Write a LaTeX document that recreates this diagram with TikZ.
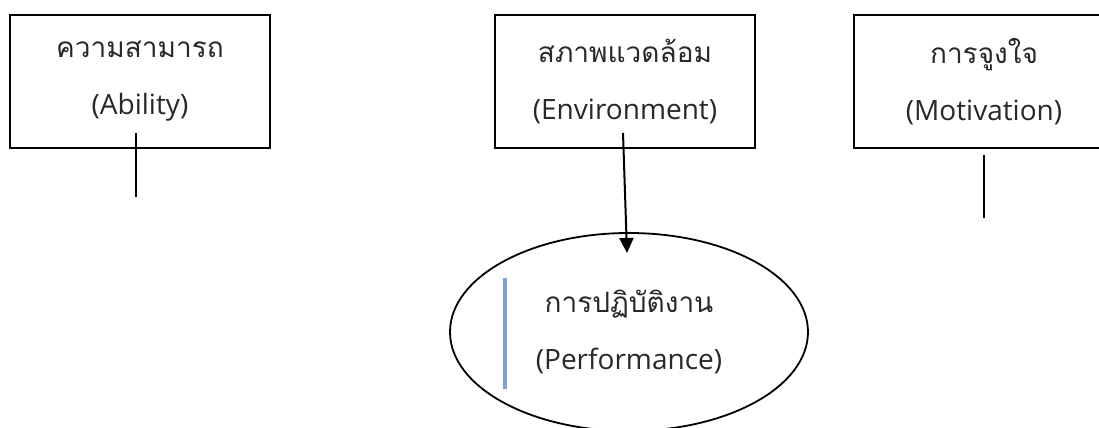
\documentclass[tikz,border=0pt]{standalone}
\usepackage{fontspec}
\setmainfont{Open Sans}
\newfontfamily\thaifont[Script=Thai]{Loma}
\usetikzlibrary{shapes.geometric, arrows.meta}
\definecolor{barblue}{RGB}{124,160,212}
\definecolor{inkgray}{RGB}{40,40,40}

\tikzset{
    factor/.style={draw, line width=1pt, minimum width=130pt, minimum height=66.5pt,
        inner sep=0pt, align=center, text=inkgray, font=\fontsize{14}{28.5}\selectfont},
    result/.style={draw, ellipse, line width=0.9pt, minimum width=179pt, minimum height=99pt,
        inner sep=0pt, align=center, text=inkgray, font=\fontsize{14}{28.5}\selectfont},
    link/.style={line width=1pt},
}

\begin{document}
\begin{tikzpicture}[x=0.5pt, y=-0.5pt]
    \clip (0,0) rectangle (1099,428);

    % --- Les trois facteurs (Haut) ---
    \node[factor] (ability) at (140,81.5) {{\thaifont ความสามารถ}\\(Ability)};
    \node[factor] (environment) at (625,81.5) {{\thaifont สภาพแวดล้อม}\\(Environment)};
    \node[factor] (motivation) at (984,81.5) {{\thaifont การจูงใจ}\\(Motivation)};

    % --- Performance (Bas) ---
    \node[result] (performance) at (629,332) {{\thaifont การปฏิบัติงาน}\\(Performance)};

    % --- Liaisons ---
    \coordinate (abilityTop) at (136,133);
    \coordinate (abilityEnd) at (136,197);
    \draw[link] (abilityTop) -- (abilityEnd);

    \coordinate (envStart) at (623,133);
    \coordinate (perfTip) at (627,253);
    \draw[link, -{Triangle[width=7pt, length=7.5pt]}] (envStart) -- (perfTip);

    \coordinate (motivTop) at (984,155);
    \coordinate (motivEnd) at (984,218);
    \draw[link] (motivTop) -- (motivEnd);

    % --- Barre bleue ---
    \coordinate (barTop) at (505,278);
    \coordinate (barEnd) at (505,389);
    \draw[barblue, line width=2pt] (barTop) -- (barEnd);
\end{tikzpicture}
\end{document}
